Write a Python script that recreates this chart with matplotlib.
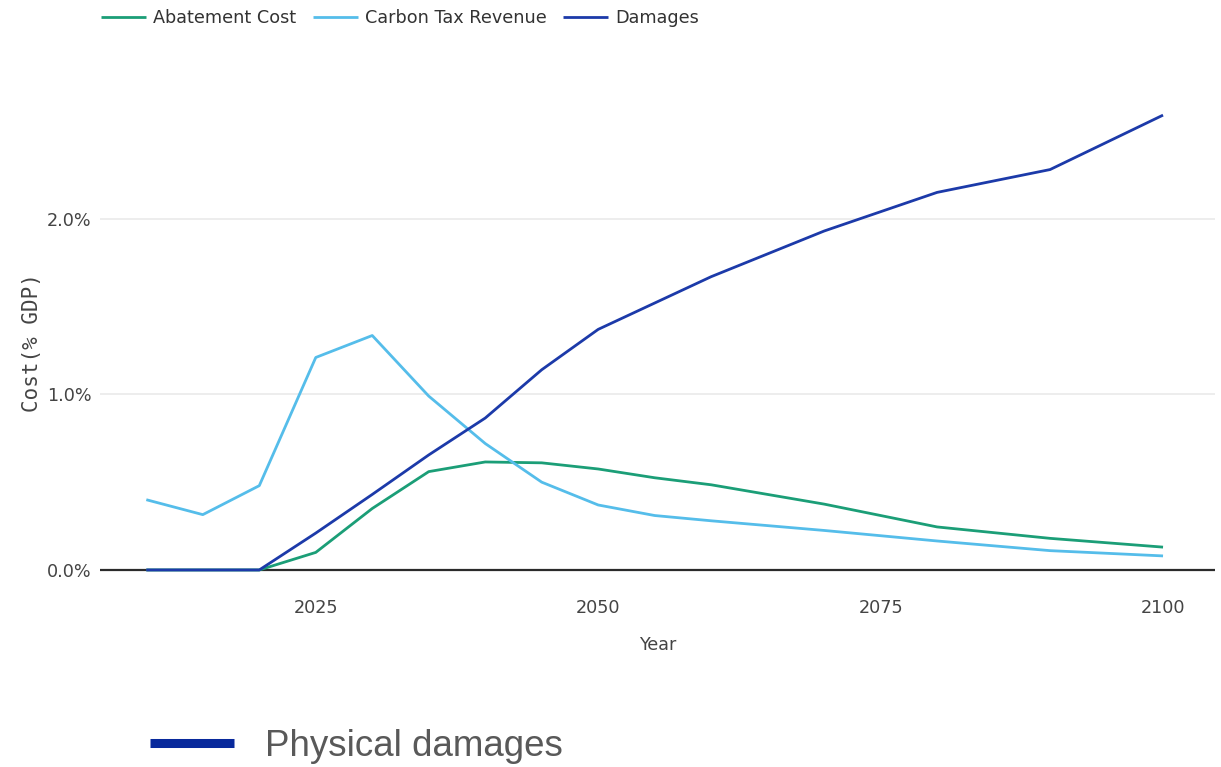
import matplotlib
matplotlib.use("Agg")
import matplotlib.pyplot as plt
from matplotlib.lines import Line2D
from matplotlib.ticker import FuncFormatter

years = [2010, 2015, 2020, 2025, 2030, 2035, 2040, 2045, 2050, 2055, 2060, 2070, 2080, 2090, 2100]
abatement_cost = [0.0, 0.0, 0.0, 0.10, 0.35, 0.56, 0.615, 0.61, 0.575, 0.525, 0.485, 0.375, 0.245, 0.18, 0.13]
carbon_tax_revenue = [0.40, 0.315, 0.48, 1.21, 1.335, 0.99, 0.72, 0.50, 0.37, 0.31, 0.28, 0.225, 0.165, 0.11, 0.08]
damages = [0.0, 0.0, 0.0, 0.21, 0.43, 0.655, 0.865, 1.14, 1.37, 1.52, 1.67, 1.93, 2.15, 2.28, 2.59]

series_names = ["Abatement Cost", "Carbon Tax Revenue", "Damages"]
series_values = [abatement_cost, carbon_tax_revenue, damages]
series_colors = ["#1b9e77", "#55bdea", "#1c3aa9"]

x_ticks = [2025, 2050, 2075, 2100]
y_ticks = [0.0, 1.0, 2.0]

W, H = 1221, 767
fig = plt.figure(figsize=(W / 100, H / 100), dpi=100)
ax = fig.add_axes([100 / W, 1 - 574 / H, 1115 / W, 494 / H])

for name, vals, col in zip(series_names, series_values, series_colors):
    ax.plot(years, vals, color=col, lw=2.0, label=name, solid_capstyle="butt", zorder=3)

ax.set_xlim(2005.9, 2104.6)
ax.set_ylim(-0.023, 2.79)
ax.set_xticks(x_ticks)
ax.set_yticks(y_ticks)
ax.yaxis.set_major_formatter(FuncFormatter(lambda v, p: f"{v:.1f}%"))
ax.tick_params(axis="both", length=0, labelsize=12.7, colors="#444444")
ax.tick_params(axis="x", pad=18)
ax.tick_params(axis="y", pad=6)
for s in ax.spines.values():
    s.set_visible(False)
for yv in y_ticks[1:]:
    ax.axhline(yv, color="#ececec", lw=1.3, zorder=1)
ax.axhline(0, color="#2b2b2b", lw=1.6, zorder=2)

ax.set_xlabel("Year", fontsize=12.7, color="#444444", labelpad=14)
ax.set_ylabel("Cost(% GDP)", fontsize=15, color="#444444", family="DejaVu Sans Mono")
ax.yaxis.set_label_coords(-0.052, 0.468)

fig.legend(loc="center left", bbox_to_anchor=(101 / W, 1 - 18 / H), ncol=3,
           frameon=False, borderpad=0, borderaxespad=0, handlelength=2.54,
           handletextpad=0.4, columnspacing=0.96,
           prop={"size": 12.7}, labelcolor="#333333")

fig.legend(handles=[Line2D([], [], color="#08299c", lw=6.5, solid_capstyle="butt")],
           labels=["Physical damages"], loc="center left",
           bbox_to_anchor=(150 / W, 1 - 746 / H), frameon=False, borderpad=0,
           borderaxespad=0, handlelength=2.27, handletextpad=0.85,
           prop={"family": "Liberation Sans", "size": 26.5}, labelcolor="#595959")

fig.savefig("out.png", dpi=100)
